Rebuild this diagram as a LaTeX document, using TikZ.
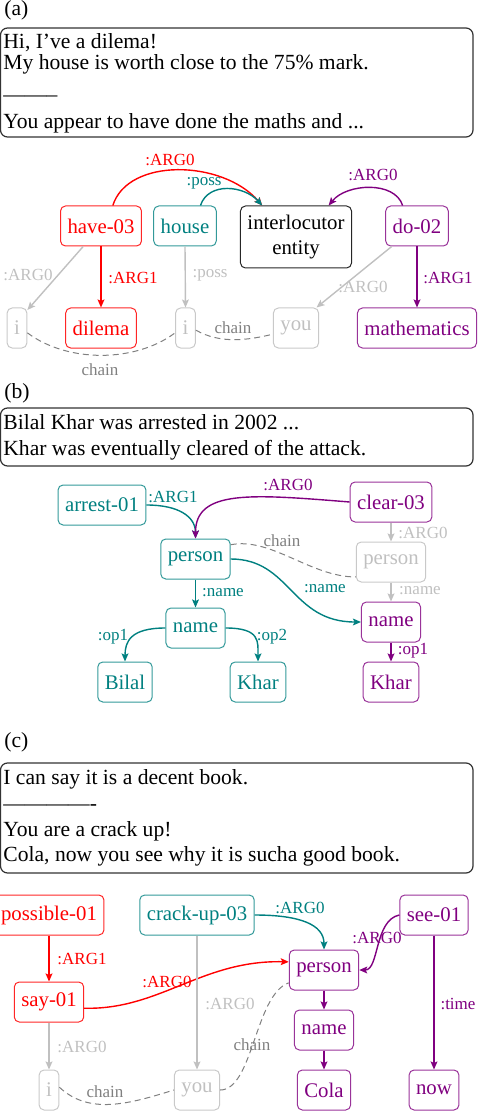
\documentclass[tikz,border=0pt]{standalone}
\usepackage{fontspec}
\setmainfont{Liberation Serif}
\usetikzlibrary{arrows.meta}
\definecolor{amrpurple}{RGB}{128,0,128}
\definecolor{amrteal}{RGB}{0,128,128}
\definecolor{amrred}{RGB}{255,0,0}
\definecolor{amrlight}{RGB}{192,192,192}
\definecolor{amrchain}{RGB}{128,128,128}
\newcommand\amrnodefont{\fontsize{10.4}{12.5}\selectfont}
\newcommand\amrlblfont{\fontsize{8.5}{10}\selectfont}
\newcommand\amrtxtfont{\fontsize{10.8}{13}\selectfont}
\tikzset{
  amr/.style={rounded corners=2.5pt, line width=0.5pt, minimum height=20pt,
    inner xsep=3.5pt, inner ysep=1pt, font=\amrnodefont, align=center},
  rednode/.style={amr, draw=amrred!85, text=amrred},
  tealnode/.style={amr, draw=amrteal!80, text=amrteal},
  purnode/.style={amr, draw=amrpurple!80, text=amrpurple},
  graynode/.style={amr, draw=amrlight!85, text=amrlight},
  blknode/.style={amr, draw=black!85, text=black},
  tipstyle/.style={-{Stealth[length=4pt,width=3.4pt,inset=0.8pt]}},
  rededge/.style={draw=amrred, line width=0.7pt, tipstyle},
  tealedge/.style={draw=amrteal, line width=0.7pt, tipstyle},
  puredge/.style={draw=amrpurple, line width=0.7pt, tipstyle},
  grayedge/.style={draw=amrlight, line width=0.7pt, tipstyle},
  chainedge/.style={draw=amrchain, line width=0.5pt, dashed, dash pattern=on 3pt off 2pt},
  lbl/.style={font=\amrlblfont, inner sep=0.5pt},
  redlbl/.style={lbl, text=amrred},
  teallbl/.style={lbl, text=amrteal},
  purlbl/.style={lbl, text=amrpurple},
  graylbl/.style={lbl, text=amrlight},
  chainlbl/.style={lbl, text=amrchain},
  txt/.style={font=\amrtxtfont, anchor=base west, inner sep=0pt},
  textbox/.style={draw=black!80, line width=0.6pt, rounded corners=3.5pt, inner sep=0pt},
}
\begin{document}
\begin{tikzpicture}[x=0.5pt, y=-0.5pt]
\useasboundingbox (0,0) rectangle (478,1112);
\begin{scope}
\clip (0,0) rectangle (478,1112);
% ---------------- (a) ----------------
\node[txt] (la) at (4,16) {(a)};
\node[textbox, minimum width=236.25pt, minimum height=54.5pt] (boxa) at (236.75,82.5) {};
\node[txt] (a1) at (3,48.3) {Hi, I’ve a dilema!};
\node[txt] (a2) at (3,69.3) {My house is worth close to the 75\% mark.};
\node[txt] (a3) at (3,102) {--------};
\node[txt] (a4) at (3,128.3) {You appear to have done the maths and ...};

\node[rednode] (have) at (101,226) {have-03};
\node[tealnode] (house) at (185,226) {house};
\node[blknode, minimum height=31pt] (inter) at (296,237) {interlocutor\\entity};
\node[purnode] (do) at (417,226) {do-02};
\node[graynode] (ia) at (17,328) {i};
\node[rednode] (dilema) at (101,328) {dilema};
\node[graynode] (ib) at (185.5,328) {i};
\node[graynode] (youa) at (296,328) {you};
\node[purnode] (math) at (417,328) {mathematics};

\draw[rededge] (have.60) .. controls +(15,-48) and +(-40,-46) .. (inter.137);
\node[redlbl] (l1) at (170,160) {:ARG0};
\draw[tealedge] (house.53) .. controls +(8,-24) and +(-18,-20) .. (inter.137);
\node[teallbl] (l2) at (204,183) {:poss};
\draw[puredge] (do.125) .. controls +(-8,-25) and +(18,-22) .. (inter.44);
\node[purlbl] (l3) at (373,175) {:ARG0};
\draw[grayedge] (have.229) -- (ia.60);
\node[graylbl] (l4) at (28,275) {:ARG0};
\draw[rededge] (have.south) -- (dilema.north);
\node[redlbl] (l5) at (133,278) {:ARG1};
\draw[grayedge] (house.south) -- (ib.north);
\node[graylbl] (l6) at (210,275) {:poss};
\draw[grayedge] (do.219) -- (youa.45);
\node[graylbl] (l7) at (363,287) {:ARG0};
\draw[puredge] (do.south) -- (math.north);
\node[purlbl] (l8) at (448,278) {:ARG1};
\draw[chainedge] (ia.-25) .. controls +(40,30) and +(-40,30) .. (ib.205);
\node[chainlbl] (l9) at (100,370) {chain};
\draw[chainedge] (ib.-12) .. controls +(25,14) and +(-25,6) .. (youa.195);
\node[chainlbl] (l10) at (233,328) {chain};

% ---------------- (b) ----------------
\node[txt] (lb) at (4,398) {(b)};
\node[textbox, minimum width=236.25pt, minimum height=29pt] (boxb) at (236.75,437) {};
\node[txt] (b1) at (3,429.3) {Bilal Khar was arrested in 2002 ...};
\node[txt] (b2) at (3,455) {Khar was eventually cleared of the attack.};

\node[tealnode] (arrest) at (102,505) {arrest-01};
\node[purnode] (clear) at (391,502) {clear-03};
\node[tealnode] (persT) at (195.5,559) {person};
\node[graynode] (persG) at (391,562) {person};
\node[tealnode] (nameT) at (195.5,628) {name};
\node[purnode] (nameP) at (391,622) {name};
\node[tealnode] (bilal) at (125,682) {Bilal};
\node[tealnode] (kharT) at (258,682) {Khar};
\node[purnode] (kharP) at (391,682) {Khar};

\draw[tealedge] (arrest.east) .. controls +(32,0) and +(0,-22) .. (persT.north);
\node[teallbl] (m1) at (173,497) {:ARG1};
\draw[puredge] (clear.west) .. controls +(-99,-8) and +(0,-49) .. (persT.north);
\node[purlbl] (m2) at (288,485) {:ARG0};
\draw[grayedge] (clear.south) -- (persG.north);
\node[graylbl] (m3) at (423,533) {:ARG0};
\draw[tealedge] (persT.east) .. controls +(60,0) and +(-70,0) .. (nameP.west);
\node[teallbl] (m4) at (325,589) {:name};
\draw[grayedge] (persG.south) -- (nameP.north);
\node[graylbl] (m5) at (420,591) {:name};
\draw[tealedge] (persT.south) -- (nameT.north);
\node[teallbl] (m6) at (223,593) {:name};
\draw[tealedge] (nameT.west) .. controls +(-35,0) and +(0,-20) .. (bilal.north);
\node[teallbl] (m7) at (113,637) {:op1};
\draw[tealedge] (nameT.east) .. controls +(35,0) and +(0,-20) .. (kharT.north);
\node[teallbl] (m8) at (272,637) {:op2};
\draw[puredge] (nameP.south) -- (kharP.north);
\node[purlbl] (m9) at (413,651) {:op1};
\draw[chainedge] (persT.22) .. controls +(40,-8) and +(-45,0) .. (persG.203);
\node[chainlbl] (m10) at (282,541) {chain};

% ---------------- (c) ----------------
\node[txt] (lc) at (4,747) {(c)};
\node[textbox, minimum width=236.25pt, minimum height=55pt] (boxc) at (236.75,818) {};
\node[txt] (c1) at (3,784) {I can say it is a decent book.};
\node[txt] (c2) at (3,810) {-------------};
\node[txt] (c3) at (3,836) {You are a crack up!};
\node[txt] (c4) at (3,861.7) {Cola, now you see why it is sucha good book.};

\node[rednode] (poss) at (49,915) {possible-01};
\node[tealnode] (crack) at (197,915) {crack-up-03};
\node[purnode] (see) at (434,915) {see-01};
\node[rednode] (say) at (49,1002) {say-01};
\node[purnode] (persP) at (324,970) {person};
\node[purnode] (nameC) at (324,1030) {name};
\node[purnode] (cola) at (324,1090) {Cola};
\node[purnode] (now) at (434,1090) {now};
\node[graynode] (ic) at (49,1090) {i};
\node[graynode] (youc) at (197,1090) {you};

\draw[rededge] (poss.south) -- (say.north);
\node[redlbl] (n1) at (82,959) {:ARG1};
\draw[tealedge] (crack.east) .. controls +(45,0) and +(0,-25) .. (persP.north);
\node[teallbl] (n2) at (300,908) {:ARG0};
\draw[puredge] (see.west) .. controls +(-25,5) and +(20,0) .. (persP.east);
\node[purlbl] (n3) at (377,938) {:ARG0};
\draw[rededge] (say.-10) .. controls +(75,2) and +(-87,-2) .. (persP.167);
\node[redlbl] (n4) at (167,982) {:ARG0};
\draw[grayedge] (crack.south) -- (youc.north);
\node[graylbl] (n5) at (230,1004) {:ARG0};
\draw[grayedge] (say.south) -- (ic.north);
\node[graylbl] (n6) at (82,1047) {:ARG0};
\draw[puredge] (persP.south) -- (nameC.north);
\draw[puredge] (nameC.south) -- (cola.north);
\draw[puredge] (see.south) -- (now.north);
\node[purlbl] (n7) at (458,1004) {:time};
\draw[chainedge] (ic.15) .. controls +(30,28) and +(-45,14) .. (youc.west);
\node[chainlbl] (n8) at (105,1092) {chain};
\draw[chainedge] (youc.east) .. controls +(33,0) and +(-34,12) .. (persP.200);
\node[chainlbl] (n9) at (252,1045) {chain};
\end{scope}
\end{tikzpicture}
\end{document}
